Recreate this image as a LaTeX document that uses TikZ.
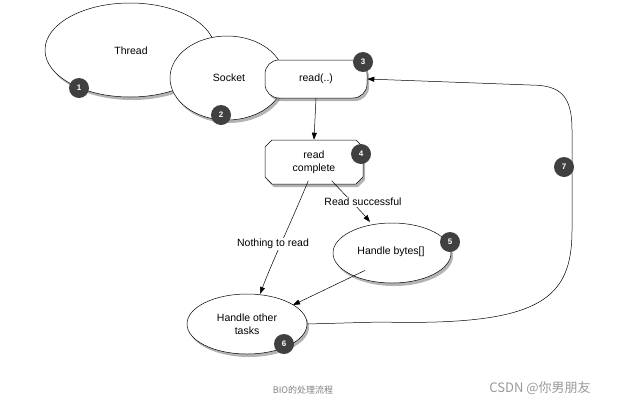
\documentclass[tikz,border=0pt]{standalone}
\usepackage{fontspec}
\setmainfont{Liberation Sans}
\newfontfamily\cjk{Noto Sans CJK SC}
\usetikzlibrary{shapes.geometric,shapes.misc,shadows,arrows.meta}
\begin{document}
\begin{tikzpicture}[x=1pt,y=-1pt,
  shp/.style={draw=black,line width=0.5pt,fill=white,drop shadow={shadow xshift=2pt,shadow yshift=-3pt,opacity=0.6,fill=gray}},
  ell/.style={shp,ellipse,inner sep=0pt,font=\fontsize{10.5}{13}\selectfont,align=center},
  txt/.style={font=\fontsize{10.5}{13}\selectfont},
  badge/.style={circle,fill=black!75,text=white,minimum size=20pt,inner sep=0pt,font=\bfseries\fontsize{8}{9}\selectfont},
  arr/.style={-{Triangle[length=7pt,width=5pt]},line width=0.5pt},
  lbl/.style={font=\fontsize{10.5}{13}\selectfont,fill=white,inner sep=1pt}]
\useasboundingbox (0,0) rectangle (628,410);
\node[ell,minimum width=170pt,minimum height=94pt] (thread) at (130,50) {};
\node[txt] (threadt) at (131,51) {Thread};
\node[ell,minimum width=114pt,minimum height=84pt] (socket) at (227,78) {};
\node[txt] (sockett) at (229,78) {Socket};
\node[shp,rounded corners=14pt,minimum width=102pt,minimum height=38pt,txt] (read) at (316,79) {read(..)};
\node[shp,chamfered rectangle,chamfered rectangle xsep=3pt,chamfered rectangle ysep=4pt,minimum width=98pt,minimum height=44pt,align=center,txt] (rc) at (314,162) {read\\complete};
\node[ell,minimum width=118pt,minimum height=60pt] (hb) at (392,253) {};
\node[txt] (hbt) at (391,252) {Handle bytes[]};
\node[ell,minimum width=120pt,minimum height=60pt] (ho) at (247,324) {Handle other\\tasks};
\node[badge] (b1) at (79,88) {1};
\node[badge] (b2) at (221,115) {2};
\node[badge] (b3) at (363,62) {3};
\node[badge] (b4) at (361,154) {4};
\node[badge] (b5) at (450,242) {5};
\node[badge] (b6) at (284,344) {6};
\draw[arr] (read.south) -- (rc.north);
\draw[arr] (rc.south west) ++(40,0) coordinate (s1) .. controls (290,225) and (275,255) .. (260,294) coordinate (e1);
\node[lbl] (l1) at (273,244) {Nothing to read};
\draw[arr] ([xshift=-28pt]rc.south east) .. controls (345,195) and (360,210) .. (370,222);
\node[lbl] (l2) at (363,202) {Read successful};
\draw[arr] (hb.south west) ++(15,-4) -- (293,305);
\draw[arr] (ho.east) -- (380,322) .. controls (540,326) and (572,300) .. (572,230) -- (572,130) .. controls (572,95) and (560,85) .. (530,85) -- (read.east);
\node[badge] (b7) at (564,167) {7};
\node[text=gray,font=\cjk\fontsize{9}{10}\selectfont] (cap) at (303,390) {BIO的处理流程};
\node[text=gray!80,font=\cjk\fontsize{13}{14}\selectfont] (wm) at (540,388) {CSDN @你男朋友};
\end{tikzpicture}
\end{document}
